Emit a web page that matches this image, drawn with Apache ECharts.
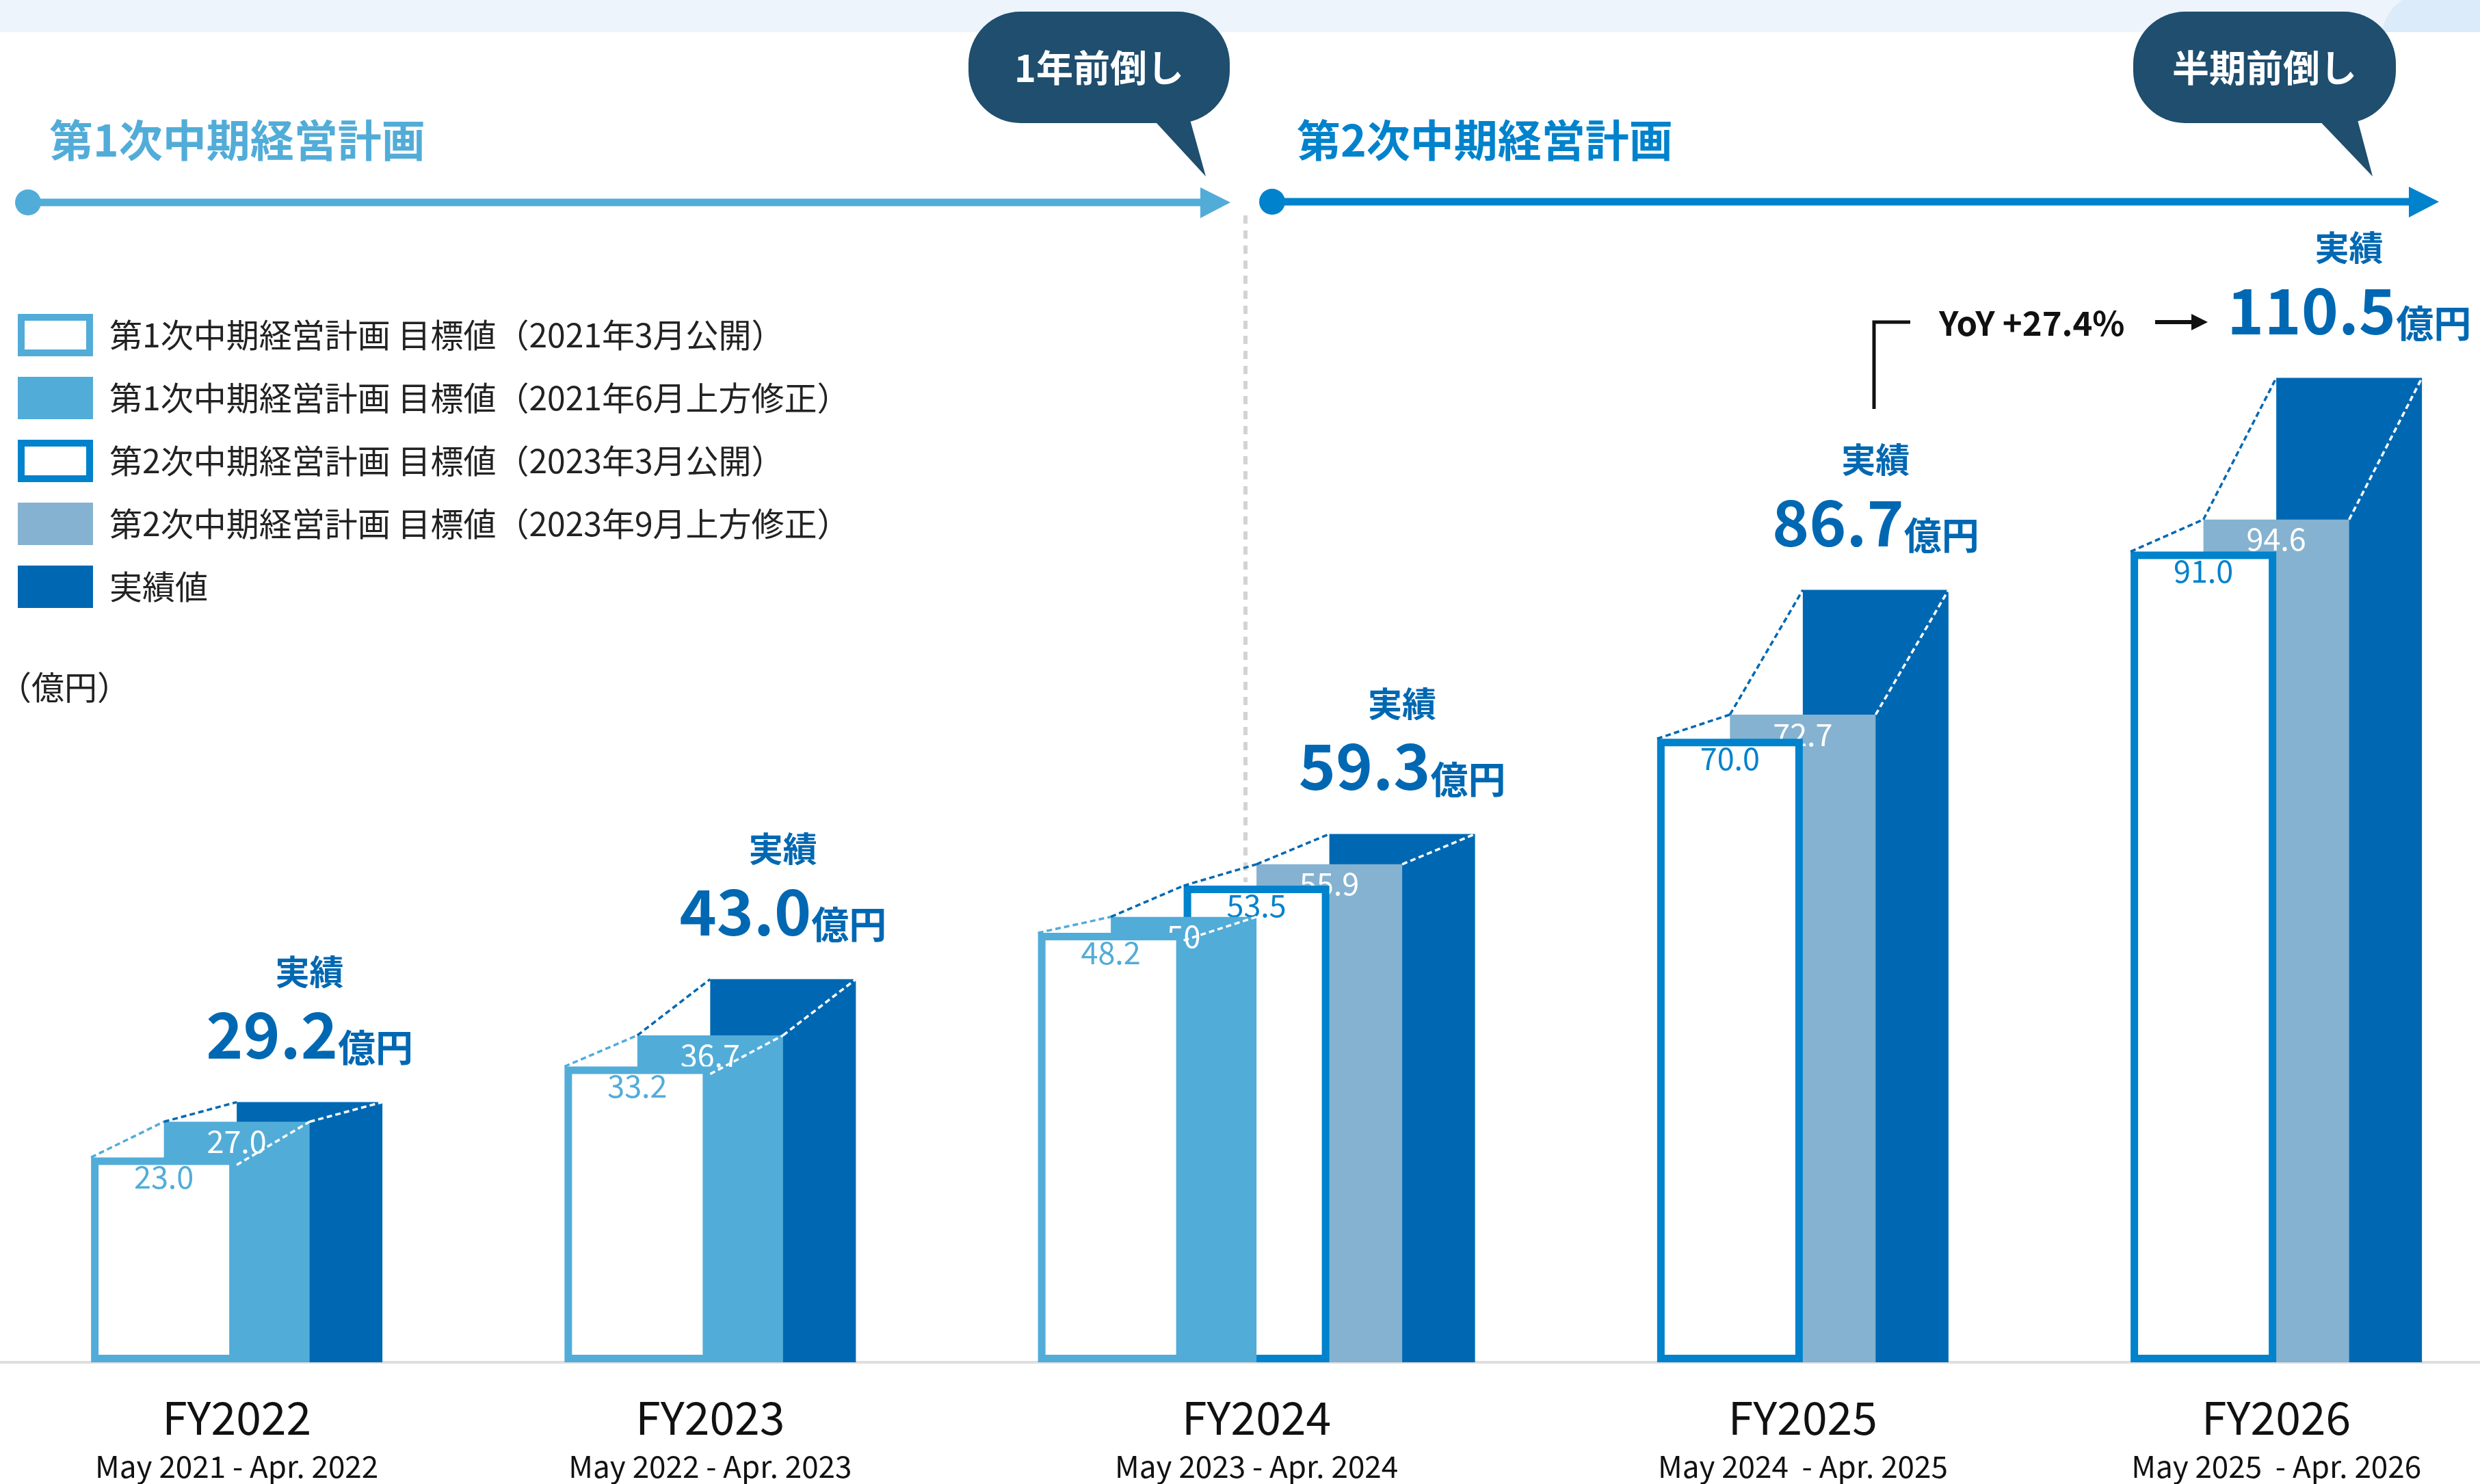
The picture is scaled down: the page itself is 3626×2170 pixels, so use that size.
<!DOCTYPE html>
<html>
<head>
<meta charset="utf-8">
<style>
html,body{margin:0;padding:0;background:#ffffff;}
#chart{width:3626px;height:2170px;}
</style>
<script src="https://cdn.jsdelivr.net/npm/echarts@6/dist/echarts.min.js"></script>
</head>
<body>
<div id="chart"></div>
<script>
// ---------------- data ----------------
const categories = ['FY2022', 'FY2023', 'FY2024', 'FY2025', 'FY2026'];
const periods = ['May 2021 - Apr. 2022', 'May 2022 - Apr. 2023', 'May 2023 - Apr. 2024', 'May 2024  - Apr. 2025', 'May 2025  - Apr. 2026'];
const seriesNames = [
  '第1次中期経営計画 目標値（2021年3月公開）',
  '第1次中期経営計画 目標値（2021年6月上方修正）',
  '第2次中期経営計画 目標値（2023年3月公開）',
  '第2次中期経営計画 目標値（2023年9月上方修正）',
  '実績値'
];
const plan1Initial = ['23.0', '33.2', '48.2', null, null];
const plan1Revised = ['27.0', '36.7', '50', null, null];
const plan2Initial = [null, null, '53.5', '70.0', '91.0'];
const plan2Revised = [null, null, '55.9', '72.7', '94.6'];
const actualValues = ['29.2', '43.0', '59.3', '86.7', '110.5'];
const actualCaption = '実績';
const unitText = '億円';
const unitAxisText = '（億円）';
const plan1Title = '第1次中期経営計画';
const plan2Title = '第2次中期経営計画';
const plan1Note = '1年前倒し';
const plan2Note = '半期前倒し';
const yoyText = 'YoY +27.4%';

// ---------------- layout helpers ----------------
const FONT = '"Noto Sans CJK JP", "Noto Sans", sans-serif';
const BAR_SLOTS = 4, HALF = 2, GROUP_GAP = 5, BORDER = 11;
const seriesValues = [plan1Initial, plan1Revised, plan2Initial, plan2Revised, actualValues];
const styles = [
  {color: '#52ACD8', outline: true, label: '#52ACD8'},
  {color: '#52ACD8', outline: false, label: '#FFFFFF'},
  {color: '#0082CC', outline: true, label: '#0082CC'},
  {color: '#85B2D0', outline: false, label: '#FFFFFF'},
  {color: '#0068B2', outline: false, label: null, caption: true}
];
const slotX = seriesValues.map(() => []);
const groupBars = [];
const groupCenters = [];
let cursor = 0;
categories.forEach((c, ci) => {
  const present = seriesValues.map((arr, si) => (arr[ci] != null ? si : -1)).filter(si => si >= 0);
  present.forEach((si, j) => { slotX[si][ci] = cursor + HALF + HALF * j; });
  const span = HALF * present.length + HALF;
  groupBars.push(present);
  groupCenters.push(cursor + span / 2);
  cursor += span + GROUP_GAP;
});

function barSeries(si) {
  const st = styles[si];
  const data = [];
  categories.forEach((c, ci) => {
    const v = seriesValues[si][ci];
    if (v != null) data.push([slotX[si][ci], parseFloat(v), ci]);
  });
  return {
    type: 'custom',
    name: seriesNames[si],
    z: 10 - si,
    itemStyle: {color: st.color},
    encode: {x: 0, y: 1},
    data: data,
    renderItem: function (params, api) {
      const x = api.value(0), v = api.value(1), ci = api.value(2);
      const p = api.coord([x, v]);
      const b = api.coord([x, 0]);
      const w = api.size([BAR_SLOTS, 0])[0];
      const L = p[0] - w / 2, T = p[1], H = b[1] - p[1];
      const ch = [];
      ch.push({type: 'rect', shape: {x: L, y: T, width: w, height: H}, style: {fill: st.color}});
      if (st.outline) {
        ch.push({type: 'rect', shape: {x: L + BORDER, y: T + BORDER, width: w - 2 * BORDER, height: H - 2 * BORDER}, style: {fill: '#FFFFFF'}});
      }
      if (st.label) {
        ch.push({type: 'text', x: p[0], y: T + 6, style: {
          text: seriesValues[si][ci], fill: st.label, fontSize: 45, fontFamily: FONT,
          align: 'center', verticalAlign: 'top'}});
      }
      if (st.caption) {
        ch.push({type: 'text', x: p[0], y: T - 191, style: {
          text: actualCaption, fill: '#0068B2', fontSize: 50, fontWeight: 'bold', fontFamily: FONT,
          align: 'center', verticalAlign: 'middle'}});
        ch.push({type: 'text', x: p[0], y: T - 53, style: {
          text: '{n|' + seriesValues[si][ci] + '}{u|' + unitText + '}',
          rich: {
            n: {fontSize: 92, fontWeight: 'bold', fill: '#0068B2', fontFamily: FONT, lineHeight: 92, verticalAlign: 'bottom'},
            u: {fontSize: 55, fontWeight: 'bold', fill: '#0068B2', fontFamily: FONT, verticalAlign: 'bottom'}
          },
          align: 'center', verticalAlign: 'bottom'}});
      }
      return {type: 'group', children: ch};
    }
  };
}

const connectorSeries = {
  type: 'custom',
  name: 'connectors',
  z: 20,
  encode: {x: 0, y: 1},
  data: categories.map((c, ci) => [groupCenters[ci], 0, ci]),
  renderItem: function (params, api) {
    const ci = api.value(2);
    const w = api.size([BAR_SLOTS, 0])[0];
    const bars = groupBars[ci].map(si => {
      const p = api.coord([slotX[si][ci], parseFloat(seriesValues[si][ci])]);
      return {si: si, l: p[0] - w / 2, r: p[0] + w / 2, t: p[1]};
    });
    const ch = [];
    for (let k = 0; k < bars.length - 1; k++) {
      const a = bars[k], b = bars[k + 1];
      ch.push({type: 'line', shape: {x1: a.l, y1: a.t, x2: b.l, y2: b.t},
        style: {stroke: a.si === 0 ? '#52ACD8' : '#0068B2', lineWidth: 3.5, lineDash: [8, 5]}});
      if (a.si !== 2 && b.si !== 2) {
        ch.push({type: 'line', shape: {x1: a.r, y1: a.t + (styles[a.si].outline ? BORDER : 0), x2: b.r, y2: b.t},
          style: {stroke: '#FFFFFF', lineWidth: 3.5, lineDash: [8, 5]}});
      }
    }
    return {type: 'group', children: ch};
  }
};

const FRAME = 'path://M0,0L110,0L110,62L0,62Z M10,10L10,52L100,52L100,10Z';

const chart = echarts.init(document.getElementById('chart'), null, {renderer: 'canvas'});
const option = {
  animation: false,
  backgroundColor: '#FFFFFF',
  textStyle: {fontFamily: FONT},
  grid: {left: 0, right: 0, top: 38, bottom: 178, containLabel: false},
  xAxis: {
    type: 'value', min: -2.5, max: 65.594,
    axisLine: {show: true, onZero: false, lineStyle: {color: '#DEDEDE', width: 4}},
    axisTick: {show: false},
    splitLine: {show: false},
    axisLabel: {
      customValues: groupCenters,
      margin: 40,
      formatter: function (v) {
        const i = groupCenters.findIndex(g => Math.abs(g - v) < 1e-6);
        return i < 0 ? '' : '{a|' + categories[i] + '}\n{b|' + periods[i] + '}';
      },
      rich: {
        a: {fontSize: 66, lineHeight: 82, color: '#111111', fontFamily: FONT},
        b: {fontSize: 44, lineHeight: 60, color: '#111111', fontFamily: FONT}
      }
    }
  },
  yAxis: {type: 'value', min: 0, max: 150, show: false},
  legend: {
    orient: 'vertical', left: 21, top: 454,
    itemWidth: 110, itemHeight: 62, itemGap: 30,
    selectedMode: false,
    textStyle: {fontSize: 48, color: '#222222', fontFamily: FONT, padding: [0, 0, 0, 19]},
    data: [
      {name: seriesNames[0], icon: FRAME, itemStyle: {color: '#52ACD8', borderWidth: 0}},
      {name: seriesNames[1], icon: 'rect', itemStyle: {color: '#52ACD8', borderWidth: 0}},
      {name: seriesNames[2], icon: FRAME, itemStyle: {color: '#0082CC', borderWidth: 0}},
      {name: seriesNames[3], icon: 'rect', itemStyle: {color: '#85B2D0', borderWidth: 0}},
      {name: seriesNames[4], icon: 'rect', itemStyle: {color: '#0068B2', borderWidth: 0}}
    ]
  },
  graphic: [
    {type: 'rect', z: 0, shape: {x: 0, y: 0, width: 3626, height: 47}, style: {fill: '#EEF4FB'}},
    {type: 'polygon', z: 0, shape: {points: [[3512, 0], [3626, 0], [3626, 47], [3482, 47], [3488, 28], [3498, 12]]}, style: {fill: '#DCEBF9'}},
    // timelines
    {type: 'text', x: 72, y: 205, style: {text: plan1Title, fill: '#52ACD8', fontSize: 64, fontWeight: 'bold', fontFamily: FONT, verticalAlign: 'middle'}},
    {type: 'text', x: 1896, y: 205, style: {text: plan2Title, fill: '#0082CC', fontSize: 64, fontWeight: 'bold', fontFamily: FONT, verticalAlign: 'middle'}},
    {type: 'circle', shape: {cx: 41, cy: 296, r: 19}, style: {fill: '#52ACD8'}},
    {type: 'rect', shape: {x: 41, y: 290.5, width: 1720, height: 11}, style: {fill: '#52ACD8'}},
    {type: 'polygon', shape: {points: [[1755, 274], [1799, 296], [1755, 319]]}, style: {fill: '#52ACD8'}},
    {type: 'circle', shape: {cx: 1860, cy: 295, r: 19}, style: {fill: '#0082CC'}},
    {type: 'rect', shape: {x: 1860, y: 289.5, width: 1665, height: 11}, style: {fill: '#0082CC'}},
    {type: 'polygon', shape: {points: [[3522, 273], [3566, 295], [3522, 318]]}, style: {fill: '#0082CC'}},
    // bubbles
    {type: 'polygon', shape: {points: [[1680, 168], [1738, 168], [1763, 258]]}, style: {fill: '#1F4E6E'}},
    {type: 'rect', shape: {x: 1416, y: 17, width: 382, height: 163, r: 76}, style: {fill: '#1F4E6E'}},
    {type: 'text', x: 1607, y: 99, style: {text: plan1Note, fill: '#FFFFFF', fontSize: 54, fontWeight: 'bold', fontFamily: FONT, align: 'center', verticalAlign: 'middle'}},
    {type: 'polygon', shape: {points: [[3383, 168], [3445, 168], [3469, 258]]}, style: {fill: '#1F4E6E'}},
    {type: 'rect', shape: {x: 3119, y: 17, width: 384, height: 163, r: 76}, style: {fill: '#1F4E6E'}},
    {type: 'text', x: 3311, y: 99, style: {text: plan2Note, fill: '#FFFFFF', fontSize: 54, fontWeight: 'bold', fontFamily: FONT, align: 'center', verticalAlign: 'middle'}},
    // divider
    {type: 'line', shape: {x1: 1821, y1: 315, x2: 1821, y2: 1290}, style: {stroke: '#D3D3D3', lineWidth: 6, lineDash: [12, 10]}},
    // unit
    {type: 'text', x: -2, y: 1005, style: {text: unitAxisText, fill: '#222222', fontSize: 48, fontFamily: FONT, verticalAlign: 'middle'}},
    // YoY
    {type: 'polyline', shape: {points: [[2740, 598], [2740, 471], [2793, 471]]}, style: {stroke: '#111111', lineWidth: 5, fill: null}},
    {type: 'text', x: 2835, y: 472, style: {text: yoyText, fill: '#111111', fontSize: 49, fontWeight: 'bold', fontFamily: FONT, verticalAlign: 'middle'}},
    {type: 'rect', shape: {x: 3151, y: 468, width: 58, height: 6}, style: {fill: '#111111'}},
    {type: 'polygon', shape: {points: [[3204, 459], [3228, 471], [3204, 483]]}, style: {fill: '#111111'}}
  ],
  series: [barSeries(0), barSeries(1), barSeries(2), barSeries(3), barSeries(4), connectorSeries]
};
chart.setOption(option);
</script>
</body>
</html>
